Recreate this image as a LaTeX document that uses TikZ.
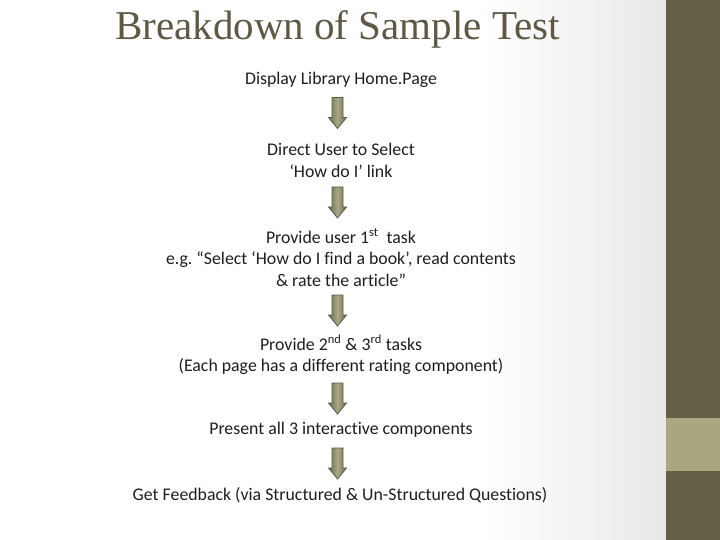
\documentclass[tikz,border=0pt]{standalone}
\usepackage{fontspec}
\setmainfont[Ligatures=NoCommon]{Carlito}
\newfontfamily\titlefont{Liberation Serif}
\definecolor{bardark}{HTML}{655E47}
\definecolor{barlight}{HTML}{A9A77F}
\definecolor{titlecol}{HTML}{5E5845}
\definecolor{arrdark}{HTML}{6E6C50}
\definecolor{arrlight}{HTML}{A8A888}
\definecolor{arredge}{HTML}{5A5A40}
\definecolor{txt}{HTML}{1E1E1E}
\begin{document}
\frenchspacing
\begin{tikzpicture}[x=1pt,y=1pt,
  stepbox/.style={inner sep=0pt, align=center, text=txt, font=\fontsize{17.8}{21.5}\selectfont},
  blockarrow/.pic={
    \path[draw=arredge, line width=0.8pt, left color=arrdark, right color=arrdark, middle color=arrlight]
      (-5.5,0) -- (5.5,0) -- (5.5,-20) -- (9,-20) -- (0,-31) -- (-9,-20) -- (-5.5,-20) -- cycle;
  }]
\useasboundingbox (0,0) rectangle (720,-540);
\fill[white] (0,0) rectangle (480,-540);
\shade[left color=white, right color=black!9] (480,0) rectangle (666,-540);
\fill[bardark] (666,0) rectangle (720,-540);
\fill[barlight] (666,-418) rectangle (720,-471);

\node[anchor=base, inner sep=0pt, text=titlecol, font=\titlefont\fontsize{41}{41}\selectfont] (title) at (337.5,-40) {Breakdown of Sample Test};

\node[stepbox] (s1) at (341,-80) {Display Library Home.Page};
\node[stepbox] (s2) at (341,-160.5) {Direct User to Select\\‘How do I’ link};
\node[stepbox] (s3) at (341,-257.5) {Provide user 1\textsuperscript{st}\ \ task\\e.g. “Select ‘How do I find a book’, read contents\\\& rate the article”};
\node[stepbox] (s4) at (341,-355) {Provide 2\textsuperscript{nd} \& 3\textsuperscript{rd} tasks\\(Each page has a different rating component)};
\node[stepbox] (s5) at (341,-430) {Present all 3 interactive components};
\node[stepbox] (s6) at (340,-495) {Get Feedback (via Structured \& Un-Structured Questions)};

\pic (a1) at (337.5,-97.5) {blockarrow};
\pic (a2) at (337.5,-187) {blockarrow};
\pic (a3) at (337.5,-295) {blockarrow};
\pic (a4) at (337.5,-383) {blockarrow};
\pic (a5) at (337.5,-448) {blockarrow};
\end{tikzpicture}
\end{document}
